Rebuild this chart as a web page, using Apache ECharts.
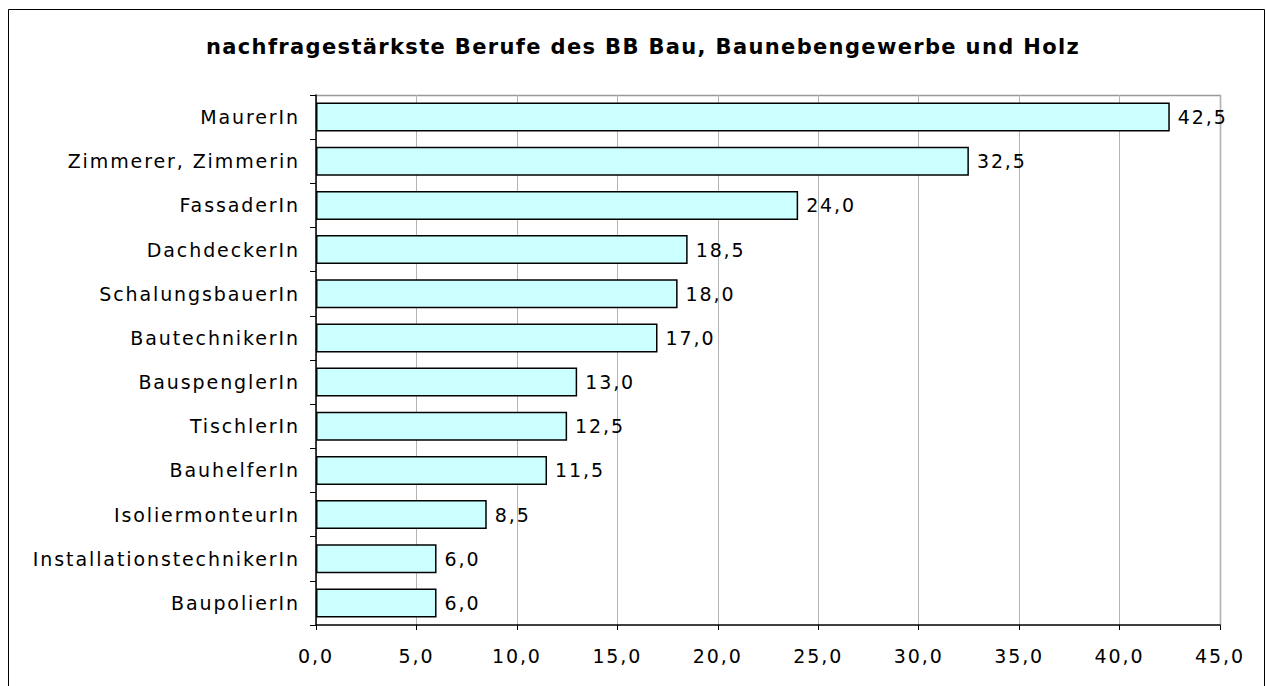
<!DOCTYPE html>
<html>
<head>
<meta charset="utf-8">
<script src="https://cdn.jsdelivr.net/npm/echarts@6/dist/echarts.min.js"></script>
<style>
html,body{margin:0;padding:0;background:#fff;}
#chart{width:1266px;height:686px;}
/* gesperrte Schrift wie im Original */
#chart svg text{letter-spacing:1.9px;}
#chart svg text[style*="bold"]{letter-spacing:1.35px;}
</style>
</head>
<body>
<div id="chart"></div>
<script>
// Berufe von oben nach unten
var berufe = ["MaurerIn", "Zimmerer, Zimmerin", "FassaderIn", "DachdeckerIn", "SchalungsbauerIn",
	"BautechnikerIn", "BauspenglerIn", "TischlerIn", "BauhelferIn", "IsoliermonteurIn",
	"InstallationstechnikerIn", "BaupolierIn"];
var werte = [42.5, 32.5, 24.0, 18.5, 18.0, 17.0, 13.0, 12.5, 11.5, 8.5, 6.0, 6.0];

function komma(v){
	return v.toFixed(1).replace(".", ",");
}

var labelFont = "DejaVu Sans";
var myChart = echarts.init(document.getElementById("chart"), null, {renderer: "svg"});
var option = {
	backgroundColor: "#fff",
	animation: false,
	title: {
		text: "nachfragestärkste Berufe des BB Bau, Baunebengewerbe und Holz",
		left: 638,
		textAlign: "center",
		top: 31,
		textStyle: {fontFamily: "DejaVu Sans", fontWeight: "bold", fontSize: 21, color: "#000"}
	},
	graphic: [{
		type: "rect",
		shape: {x: 8.5, y: 9.5, width: 1256, height: 700},
		style: {fill: "none", stroke: "#000", lineWidth: 1},
		silent: true
	}, {
		// obere und rechte Rahmenlinie der Zeichenfläche
		type: "polyline",
		shape: {points: [[316, 95.5], [1220.5, 95.5], [1220.5, 625]]},
		style: {stroke: "#999", lineWidth: 1.5},
		silent: true
	}],
	grid: {left: 316, right: 46, top: 95, bottom: 61},
	xAxis: {
		type: "value",
		min: 0, max: 45, interval: 5,
		axisLine: {show: true, lineStyle: {color: "#000", width: 1.5}},
		axisTick: {show: true, length: 5, lineStyle: {color: "#000"}},
		splitLine: {show: true, lineStyle: {color: "#b4b4b4", width: 1}},
		axisLabel: {
			formatter: komma, margin: 21,
			fontFamily: labelFont, fontSize: 19, color: "#000"
		}
	},
	yAxis: {
		type: "category",
		inverse: true,
		data: berufe,
		axisLine: {show: true, lineStyle: {color: "#000", width: 1.5}},
		axisTick: {show: true, length: 6, lineStyle: {color: "#000"}},
		axisLabel: {margin: 16, fontFamily: labelFont, fontSize: 19, color: "#000"}
	},
	series: [{
		type: "bar",
		data: werte,
		barWidth: 29,
		itemStyle: {color: "#ccffff", borderColor: "#000", borderWidth: 1.5},
		label: {
			show: true, position: "right", distance: 8,
			formatter: function(p){ return komma(p.value); },
			fontFamily: labelFont, fontSize: 19, color: "#000"
		}
	}]
};
myChart.setOption(option);
</script>
</body>
</html>
